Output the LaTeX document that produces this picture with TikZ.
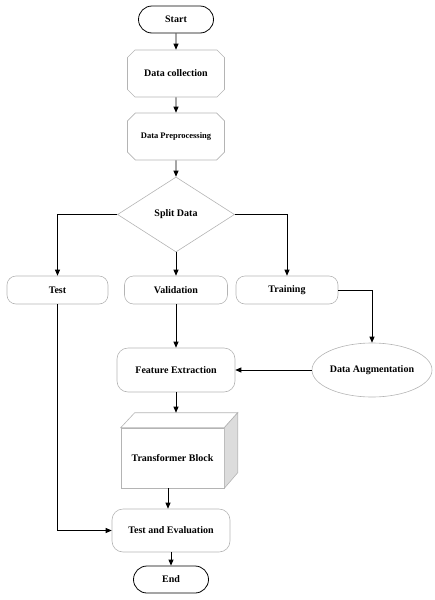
\documentclass[tikz,border=0pt]{standalone}
\usepackage{fontspec}
\setmainfont{Liberation Serif}
\usetikzlibrary{shapes.geometric,shapes.misc,arrows.meta}
\definecolor{bord}{HTML}{B4B4B4}
\definecolor{side}{HTML}{DCDCDC}
\tikzset{
  every node/.style={font=\bfseries\fontsize{10}{11}\selectfont, inner sep=0pt},
  term/.style={rounded rectangle, draw=black, line width=0.8pt, minimum width=75pt, minimum height=27pt},
  chbox/.style={chamfered rectangle, chamfered rectangle xsep=4pt, chamfered rectangle ysep=4pt, draw=bord, line width=0.6pt, minimum width=97pt, minimum height=47pt},
  rbox/.style={rectangle, rounded corners=9pt, draw=bord, line width=0.6pt},
  dec/.style={diamond, draw=bord, line width=0.6pt, minimum width=117pt, minimum height=75pt, aspect=1.56},
  ell/.style={ellipse, draw=bord, line width=0.6pt, minimum width=120pt, minimum height=54pt},
  arr/.style={-{Triangle[length=6pt,width=5pt]}, line width=0.8pt, black}
}
\begin{document}
\begin{tikzpicture}[x=1pt,y=-1pt]
\useasboundingbox (0,0) rectangle (435,600);
\node[term] (start) at (176,19.5) {Start};
\node[chbox] (dc) at (176,73.5) {Data collection};
\node[chbox, font=\bfseries\fontsize{8.5}{10}\selectfont] (dp) at (176,136.5) {Data Preprocessing};
\node[dec] (split) at (176,214.5) {Split Data};
\node[rbox, minimum width=101pt, minimum height=28pt] (test) at (57.5,290) {Test};
\node[rbox, minimum width=103pt, minimum height=28pt] (val) at (176,290) {Validation};
\node[rbox, minimum width=102pt, minimum height=28pt] (train) at (287,290) {Training};
\node[ell] (aug) at (372,370) {Data Augmentation};
\node[rbox, rounded corners=11pt, minimum width=118pt, minimum height=44pt] (fe) at (176,370) {Feature Extraction};
\node[rectangle, draw=bord, line width=0.6pt, minimum width=103pt, minimum height=60pt, fill=white] (tb) at (172.5,458) {Transformer Block};
\draw[draw=bord, line width=0.6pt, fill=white] (tb.north west) -- ++(14,-15) coordinate (tbnwb) -- ++(103,0) coordinate (tbneb) -- (tb.north east) -- cycle;
\draw[draw=bord, line width=0.6pt, fill=side] (tb.north east) -- (tbneb) -- ++(0,60) coordinate (tbseb) -- (tb.south east) -- cycle;
\node[rbox, rounded corners=11pt, minimum width=118pt, minimum height=43pt] (te) at (171,530.5) {Test and Evaluation};
\node[term] (end) at (171,579.5) {End};
% connectors
\draw[arr] (start) -- (dc);
\draw[arr] (dc) -- (dp);
\draw[arr] (dp) -- (split);
\draw[arr] (split.west) -| (test.north);
\draw[arr] (split.south) -- (val.north);
\draw[arr] (split.east) -| (train.north);
\draw[arr] (train.east) -| (aug.north);
\draw[arr] (val.south) -- (fe.north);
\draw[arr] (aug.west) -- (fe.east);
\draw[arr] (fe.south) -- (fe.south |- tbnwb);
\draw[arr] (tb.south -| te.north) ++(-3,0) coordinate (tbout) -- (tbout |- te.north);
\draw[arr] (test.south) |- (te.west);
\draw[arr] (te.south) -- (end.north);
\end{tikzpicture}
\end{document}
